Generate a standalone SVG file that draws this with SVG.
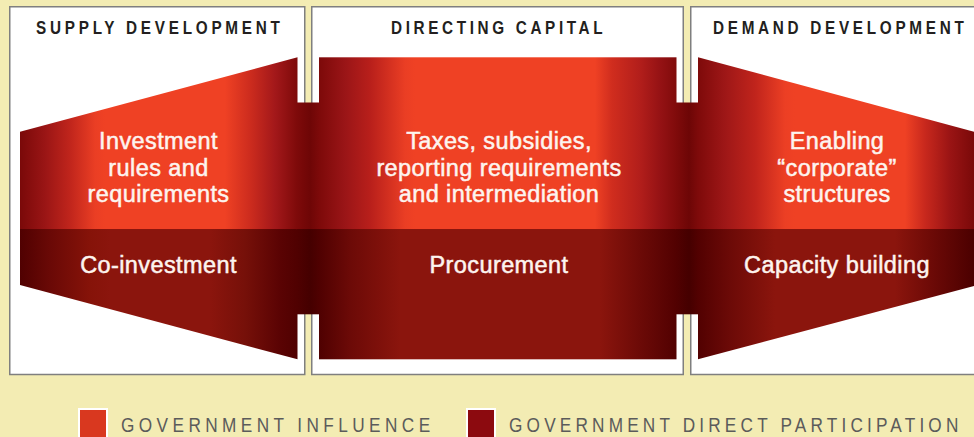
<svg xmlns="http://www.w3.org/2000/svg" width="974" height="437" viewBox="0 0 974 437">
<defs>
<linearGradient id="gTop" gradientUnits="userSpaceOnUse" x1="0" y1="0" x2="974" y2="0">
<stop offset="0.0205" stop-color="#7a0909"/>
<stop offset="0.0462" stop-color="#9a1515"/>
<stop offset="0.0719" stop-color="#c0251c"/>
<stop offset="0.0975" stop-color="#ea3e24"/>
<stop offset="0.1078" stop-color="#ef4124"/>
<stop offset="0.231" stop-color="#ef4124"/>
<stop offset="0.2567" stop-color="#cd2c1e"/>
<stop offset="0.2823" stop-color="#a3181a"/>
<stop offset="0.3049" stop-color="#7e0a0a"/>
<stop offset="0.3183" stop-color="#6e0606"/>
<stop offset="0.3285" stop-color="#7e0a0a"/>
<stop offset="0.3542" stop-color="#9a1517"/>
<stop offset="0.3799" stop-color="#b81f1b"/>
<stop offset="0.4158" stop-color="#ea3e24"/>
<stop offset="0.4261" stop-color="#ef4124"/>
<stop offset="0.6109" stop-color="#ef4124"/>
<stop offset="0.6283" stop-color="#d02d1e"/>
<stop offset="0.6571" stop-color="#b21e1b"/>
<stop offset="0.6776" stop-color="#951214"/>
<stop offset="0.694" stop-color="#800b0b"/>
<stop offset="0.7074" stop-color="#6d0606"/>
<stop offset="0.7166" stop-color="#7e0a0a"/>
<stop offset="0.7444" stop-color="#9e1717"/>
<stop offset="0.7752" stop-color="#c0241c"/>
<stop offset="0.806" stop-color="#ec3f24"/>
<stop offset="0.8162" stop-color="#ef4124"/>
<stop offset="0.9292" stop-color="#ef4124"/>
<stop offset="0.9497" stop-color="#c8281d"/>
<stop offset="0.9754" stop-color="#9a1414"/>
<stop offset="1" stop-color="#7a0909"/>
</linearGradient>
<linearGradient id="gBot" gradientUnits="userSpaceOnUse" x1="0" y1="0" x2="974" y2="0">
<stop offset="0.0205" stop-color="#500101"/>
<stop offset="0.0513" stop-color="#6a0906"/>
<stop offset="0.0924" stop-color="#861309"/>
<stop offset="0.1129" stop-color="#8b150d"/>
<stop offset="0.2156" stop-color="#8b150d"/>
<stop offset="0.2515" stop-color="#761009"/>
<stop offset="0.2875" stop-color="#5a0303"/>
<stop offset="0.3049" stop-color="#500101"/>
<stop offset="0.3183" stop-color="#450000"/>
<stop offset="0.3285" stop-color="#500101"/>
<stop offset="0.3593" stop-color="#6c0a07"/>
<stop offset="0.4107" stop-color="#8b150d"/>
<stop offset="0.616" stop-color="#8b150d"/>
<stop offset="0.6571" stop-color="#6c0a07"/>
<stop offset="0.694" stop-color="#520101"/>
<stop offset="0.7074" stop-color="#450000"/>
<stop offset="0.7166" stop-color="#520101"/>
<stop offset="0.7495" stop-color="#6c0a07"/>
<stop offset="0.7957" stop-color="#8b150d"/>
<stop offset="0.9189" stop-color="#8b150d"/>
<stop offset="0.96" stop-color="#6a0906"/>
<stop offset="1" stop-color="#4b0000"/>
</linearGradient>
</defs>
<style>
.panel{fill:#ffffff;stroke:#7f7f7f;stroke-width:1.5}
.head{font-family:"Liberation Sans",Arial,sans-serif;font-weight:bold;font-size:18px;fill:#231f20}
.top{fill:url(#gTop)}
.bot{fill:url(#gBot)}
.lbl{font-family:"Liberation Sans",Arial,sans-serif;font-size:23.5px;letter-spacing:0.4px;fill:#fdf4ef;stroke:#fdf4ef;stroke-width:0.5px;text-anchor:middle}
.leg{font-family:"Liberation Sans",Arial,sans-serif;font-size:21px;fill:#5b5b5b}
</style>
<rect x="0" y="0" width="974" height="437" fill="#f3ecb3"/>

<g id="supply-development">
<rect class="panel" x="9.75" y="6.75" width="295" height="367.75"/>
<text class="head" transform="translate(36,34) scale(0.85,1)" x="0" y="0" textLength="287" lengthAdjust="spacing">SUPPLY DEVELOPMENT</text>
<path class="top" d="M20,131.7 L297.5,57.3 L297.5,229.5 L20,229.5 Z"/>
<path class="bot" d="M20,229 L297.5,229 L297.5,359.3 L20,285 Z"/>
<text class="lbl" x="158.5" y="149">Investment</text>
<text class="lbl" x="158.5" y="176">rules and</text>
<text class="lbl" x="158.5" y="202">requirements</text>
<text class="lbl" x="158.5" y="273">Co-investment</text>
</g>

<g id="directing-capital">
<rect class="panel" x="311.75" y="6.75" width="371.5" height="367.75"/>
<text class="head" transform="translate(391,34) scale(0.85,1)" x="0" y="0" textLength="249" lengthAdjust="spacing">DIRECTING CAPITAL</text>
<rect class="top" x="319" y="57.3" width="357.5" height="172.2"/>
<rect class="bot" x="319" y="229" width="357.5" height="130.3"/>
<text class="lbl" x="499" y="149">Taxes, subsidies,</text>
<text class="lbl" x="499" y="176">reporting requirements</text>
<text class="lbl" x="499" y="202">and intermediation</text>
<text class="lbl" x="499" y="273">Procurement</text>
</g>

<g id="demand-development">
<rect class="panel" x="690.75" y="6.75" width="295" height="367.75"/>
<text class="head" transform="translate(713,34) scale(0.85,1)" x="0" y="0" textLength="295" lengthAdjust="spacing">DEMAND DEVELOPMENT</text>
<path class="top" d="M698,57.3 L976,132.2 L976,229.5 L698,229.5 Z"/>
<path class="bot" d="M698,229 L976,229 L976,285.5 L698,359.3 Z"/>
<text class="lbl" x="837" y="149">Enabling</text>
<text class="lbl" x="837" y="176">“corporate”</text>
<text class="lbl" x="837" y="202">structures</text>
<text class="lbl" x="837" y="273">Capacity building</text>
</g>

<g id="connectors">
<rect class="top" x="296.5" y="102.5" width="23.5" height="127"/>
<rect class="bot" x="296.5" y="229" width="23.5" height="85.3"/>
<rect class="top" x="675.5" y="102.5" width="23.5" height="127"/>
<rect class="bot" x="675.5" y="229" width="23.5" height="85.3"/>
</g>

<g id="legend">
<rect x="79" y="409" width="28" height="30" fill="#d9381f" stroke="#ffffff" stroke-width="2"/>
<text class="leg" transform="translate(121,432) scale(0.82,1)" x="0" y="0" textLength="377" lengthAdjust="spacing">GOVERNMENT INFLUENCE</text>
<rect x="467" y="409" width="28" height="30" fill="#8c0a0f" stroke="#ffffff" stroke-width="2"/>
<text class="leg" transform="translate(509,432) scale(0.82,1)" x="0" y="0" textLength="548" lengthAdjust="spacing">GOVERNMENT DIRECT PARTICIPATION</text>
</g>
</svg>
